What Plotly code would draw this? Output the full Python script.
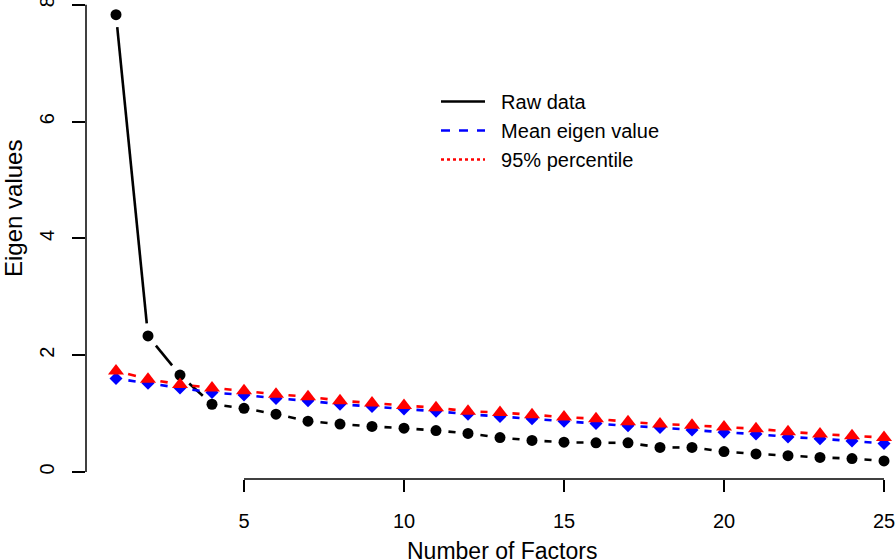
import math
import plotly.graph_objects as go

# ---- data ----
factors = list(range(1, 26))
raw_data = [7.83, 2.33, 1.66, 1.16, 1.09, 0.99, 0.87, 0.82, 0.78, 0.75, 0.71, 0.66, 0.59,
            0.54, 0.51, 0.50, 0.50, 0.42, 0.42, 0.35, 0.31, 0.28, 0.25, 0.23, 0.19]
mean_eigen = [1.60, 1.52, 1.44, 1.36, 1.32, 1.26, 1.22, 1.16, 1.12, 1.08, 1.04, 0.99, 0.95,
              0.91, 0.87, 0.83, 0.79, 0.76, 0.72, 0.68, 0.65, 0.60, 0.57, 0.53, 0.49]
pct95 = [1.73, 1.59, 1.50, 1.44, 1.39, 1.33, 1.29, 1.22, 1.18, 1.14, 1.10, 1.04, 1.02,
         0.98, 0.94, 0.91, 0.86, 0.82, 0.80, 0.77, 0.74, 0.69, 0.65, 0.62, 0.59]
x_ticks = [5, 10, 15, 20, 25]
y_ticks = [0, 2, 4, 6, 8]
series_names = ["Raw data", "Mean eigen value", "95% percentile"]

# ---- layout constants ----
W, H = 896, 559
ML, MR, MT, MB = 86, 0, 0, 80
XR = [0.0625, 25.375]
YR = [-0.12, 8.082]
PW, PH = W - ML - MR, H - MT - MB
SX = PW / (XR[1] - XR[0])
SY = PH / (YR[1] - YR[0])
GAP = 12.5  # px gap around points (R type="b")
FONT = "Liberation Sans, Arial, sans-serif"


def gapped(xs, ys, gap=GAP):
    """Line pieces between consecutive points, shortened at both ends."""
    gx, gy = [], []
    for i in range(len(xs) - 1):
        x1, y1, x2, y2 = xs[i], ys[i], xs[i + 1], ys[i + 1]
        L = math.hypot((x2 - x1) * SX, (y2 - y1) * SY)
        if L <= 2 * gap:
            continue
        t0, t1 = gap / L, 1 - gap / L
        gx += [x1 + t0 * (x2 - x1), x1 + t1 * (x2 - x1), None]
        gy += [y1 + t0 * (y2 - y1), y1 + t1 * (y2 - y1), None]
    return gx, gy


fig = go.Figure()

series = [
    (series_names[0], raw_data, "black", "circle", 11, "solid"),
    (series_names[1], mean_eigen, "blue", "diamond", 10, "dash"),
    (series_names[2], pct95, "red", "triangle-up", 14, "dot"),
]

for name, vals, col, sym, size, dash in series:
    gx, gy = gapped(factors, vals)
    fig.add_trace(go.Scatter(x=gx, y=gy, mode="lines", line=dict(color=col, width=2.6),
                             showlegend=False, hoverinfo="skip"))
    fig.add_trace(go.Scatter(x=factors, y=vals, mode="markers", name=name,
                             marker=dict(color=col, symbol=sym, size=size, line=dict(width=0)),
                             showlegend=False))

# legend entries (line styles as in the original legend)
for name, vals, col, sym, size, dash in series:
    fig.add_trace(go.Scatter(x=[None], y=[None], mode="lines", name="\u00a0\u00a0" + name,
                             line=dict(color=col, width=2.6, dash=dash)))

# axis lines spanning only the tick range (R style)
fig.add_shape(type="line", xref="x", yref="paper", x0=x_ticks[0], x1=x_ticks[-1], y0=0, y1=0,
              line=dict(color="black", width=1.5))
fig.add_shape(type="line", xref="paper", yref="y", x0=0, x1=0, y0=y_ticks[0], y1=y_ticks[-1],
              line=dict(color="black", width=1.5))

fig.update_layout(
    width=W, height=H,
    margin=dict(l=ML, r=MR, t=MT, b=MB, autoexpand=False),
    paper_bgcolor="white", plot_bgcolor="white",
    font=dict(family=FONT, size=20, color="black"),
    xaxis=dict(range=XR, tickmode="array", tickvals=x_ticks, ticktext=[str(v) for v in x_ticks],
               showgrid=False, zeroline=False, showline=False, automargin=False,
               ticks="outside", ticklen=12, tickwidth=1.5, tickcolor="black",
               ticklabelstandoff=12, ticklabeloverflow="allow", tickfont=dict(size=20)),
    yaxis=dict(range=YR, tickmode="array", tickvals=y_ticks, ticktext=[str(v) for v in y_ticks],
               showgrid=False, zeroline=False, showline=False, automargin=False,
               ticks="outside", ticklen=13, tickwidth=1.5, tickcolor="black",
               tickangle=-90, ticklabelstandoff=10, ticklabeloverflow="allow",
               tickfont=dict(size=20)),
    legend=dict(x=(436 - ML) / PW, y=1 - 82 / PH, xanchor="left", yanchor="top",
                bgcolor="rgba(0,0,0,0)", borderwidth=0, font=dict(size=20), itemwidth=44),
    showlegend=True,
    annotations=[
        dict(text="Eigen values", xref="paper", yref="paper", x=(13 - ML) / PW,
             y=1 - 209 / PH, xanchor="center", yanchor="middle", textangle=-90,
             showarrow=False, font=dict(size=24)),
        dict(text="Number of Factors", xref="paper", yref="paper", x=(502 - ML) / PW,
             y=-(551 - PH) / PH, xanchor="center", yanchor="middle",
             showarrow=False, font=dict(size=23)),
    ],
)

fig.write_html("out.html", config={"displayModeBar": False},
               post_script="document.body.style.margin='0';document.body.style.overflow='hidden';")
